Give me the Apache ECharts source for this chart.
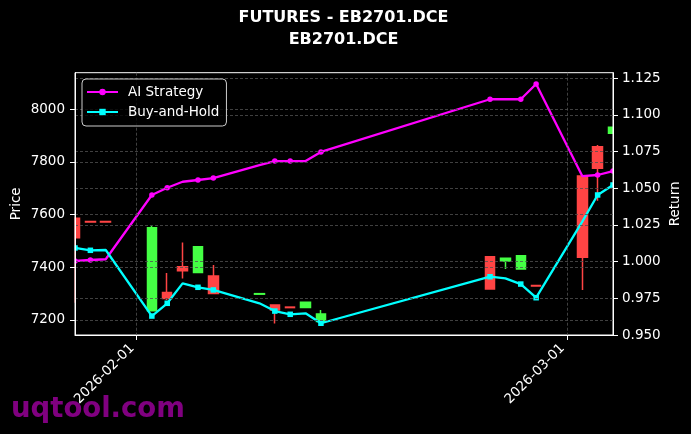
<!DOCTYPE html>
<html><head><meta charset="utf-8">
<script src="https://cdn.jsdelivr.net/npm/echarts@6/dist/echarts.min.js"></script>
<style>html,body{margin:0;padding:0;background:#000}#c{width:691px;height:434px}</style>
</head><body><div id="c"></div>
<script>
const dates = ['2026-01-28','2026-01-29','2026-01-30','2026-02-02','2026-02-03','2026-02-04','2026-02-05','2026-02-06','2026-02-09','2026-02-10','2026-02-11','2026-02-12','2026-02-13','2026-02-24','2026-02-25','2026-02-26','2026-02-27','2026-03-02','2026-03-03','2026-03-04'];
const openP  = [7586,7574,7574,7235,7304,7402,7380,7367,7298,7257,7249,7247,7194,7440,7424,7394,7331,7747,7858,7909];
const closeP = [7512,7572,7572,7550,7282,7387,7478,7301,7300,7238,7247,7267,7223,7318,7434,7444,7329,7438,7776,7932];
const lowP   = [7265,7572,7572,7232,7276,7358,7378,7298,7298,7187,7247,7246,7190,7316,7394,7392,7329,7314,7653,7907];
const highP  = [7590,7574,7574,7558,7378,7494,7480,7409,7300,7258,7249,7268,7238,7441,7434,7445,7331,7747,7864,7934];
const aiStrategy = [1.0004,1.0011,1.0016,1.0454,1.0503,1.0544,1.0556,1.0569,1.0657,1.0685,1.0685,1.0685,1.0747,1.1106,1.1106,1.1106,1.1210,1.0583,1.0590,1.0617];
const buyHold    = [1.0093,1.0077,1.0079,0.9629,0.9716,0.9852,0.9825,0.9807,0.9716,0.9663,0.9641,0.9648,0.9580,0.9897,0.9886,0.9847,0.9754,1.0272,1.0454,1.0522];
const xTicks = ['2026-02-01','2026-03-01'];
const priceTicks = [7200,7400,7600,7800,8000];
const returnTicks = [0.950,0.975,1.000,1.025,1.050,1.075,1.100,1.125];
const xRange = ['2026-01-28','2026-03-04'];
const priceRange = [7143, 8139];
const returnRange = [0.95, 1.1287];

const T = s => echarts.time.parse(s).getTime();
const ts = dates.map(T);
const candleData = ts.map((t,i)=>[t, openP[i], closeP[i], lowP[i], highP[i]]);
const lineData = arr => ts.map((t,i)=> i % 3 === 2 ? {value:[t,arr[i]], symbol:'none'} : {value:[t,arr[i]]});

const W = 691, H = 434, GL = 75, GR = 78, GT = 72.7, GB = 99;
const FONT = 'DejaVu Sans';
const gridLine = {show:true, lineStyle:{color:'#505050', type:[3,2], width:0.8}};
const chart = echarts.init(document.getElementById('c'));
chart.setOption({
  animation:false,
  backgroundColor:'#000',
  textStyle:{fontFamily:FONT},
  title:{
    text:'FUTURES - EB2701.DCE\nEB2701.DCE',
    left:343.5, top:7, padding:0, textAlign:'center',
    textStyle:{color:'#fff', fontSize:16, fontWeight:'bold', lineHeight:21.7, fontFamily:FONT, align:'center'}
  },
  legend:{
    data:['AI Strategy','Buy-and-Hold'], z:20,
    orient:'vertical', left:82, top:79,
    padding:[6,7,7,4], itemGap:6, itemWidth:31, itemHeight:8,
    backgroundColor:'rgba(0,0,0,0.8)', borderColor:'#cccccc', borderWidth:1, borderRadius:4,
    textStyle:{color:'#fff', fontSize:13.5, fontFamily:FONT, padding:[0,0,0,5]}
  },
  grid:{left:GL, right:GR, top:GT, bottom:GB, show:true, borderColor:'#fff', borderWidth:1,
    containLabel:false, outerBoundsMode:'none', z:10},
  xAxis:{
    type:'value', min:T(xRange[0]), max:T(xRange[1]), scale:true, z:10,
    axisLine:{lineStyle:{color:'#fff'}},
    axisTick:{show:true, length:5, lineStyle:{color:'#fff'}, customValues:xTicks.map(T)},
    axisLabel:{color:'#fff', fontSize:13.5, rotate:45, margin:7, padding:[0,6,0,0], customValues:xTicks.map(T),
      formatter:v=>echarts.time.format(v,'{yyyy}-{MM}-{dd}',false)},
    splitLine:gridLine
  },
  yAxis:[{
    type:'value', min:priceRange[0], max:priceRange[1], position:'left', z:10,
    name:'Price', nameLocation:'middle', nameGap:52, nameMoveOverlap:false,
    nameTextStyle:{color:'#fff', fontSize:13.5, fontFamily:FONT},
    axisLine:{show:true, lineStyle:{color:'#fff'}},
    axisTick:{show:true, length:5, lineStyle:{color:'#fff'}, customValues:priceTicks},
    axisLabel:{color:'#fff', fontSize:13.5, margin:10, customValues:priceTicks, formatter:v=>String(v)},
    splitLine:gridLine
  },{
    type:'value', min:returnRange[0], max:returnRange[1], position:'right', z:10,
    name:'Return', nameLocation:'middle', nameGap:55, nameMoveOverlap:false,
    nameTextStyle:{color:'#fff', fontSize:13.5, fontFamily:FONT},
    axisLine:{show:true, lineStyle:{color:'#fff'}},
    axisTick:{show:true, length:5, lineStyle:{color:'#fff'}, customValues:returnTicks},
    axisLabel:{color:'#fff', fontSize:13.5, margin:9, customValues:returnTicks, formatter:v=>v.toFixed(3)},
    splitLine:gridLine
  }],
  graphic:[
    {type:'rect', z:8, silent:true, shape:{x:0, y:GT-8, width:GL-0.5, height:H-GT-GB+16}, style:{fill:'#000'}},
    {type:'rect', z:8, silent:true, shape:{x:W-GR+0.5, y:GT-8, width:GR, height:H-GT-GB+16}, style:{fill:'#000'}},
    {type:'text', left:11, top:396, z:1,
     style:{text:'uqtool.com', font:'bold 27.5px "DejaVu Sans"', fill:'#800080'}}
  ],
  series:[{
    name:'EB2701.DCE', type:'candlestick', xAxisIndex:0, yAxisIndex:0,
    data:candleData, encode:{x:0, y:[1,2,3,4]}, barWidth:10, clip:false, z:2,
    itemStyle:{color:'#44ff44', color0:'#ff4444', borderColor:'#44ff44', borderColor0:'#ff4444', borderWidth:1.5}
  },{
    name:'AI Strategy', type:'line', yAxisIndex:1, data:lineData(aiStrategy),
    symbol:'circle', symbolSize:5.5, showAllSymbol:true, z:4, clip:false,
    lineStyle:{color:'#ff00ff', width:2.3}, itemStyle:{color:'#ff00ff'}
  },{
    name:'Buy-and-Hold', type:'line', yAxisIndex:1, data:lineData(buyHold),
    symbol:'rect', symbolSize:5.5, showAllSymbol:true, z:4, clip:false,
    lineStyle:{color:'#00ffff', width:2.3}, itemStyle:{color:'#00ffff'}
  }]
});
</script></body></html>
